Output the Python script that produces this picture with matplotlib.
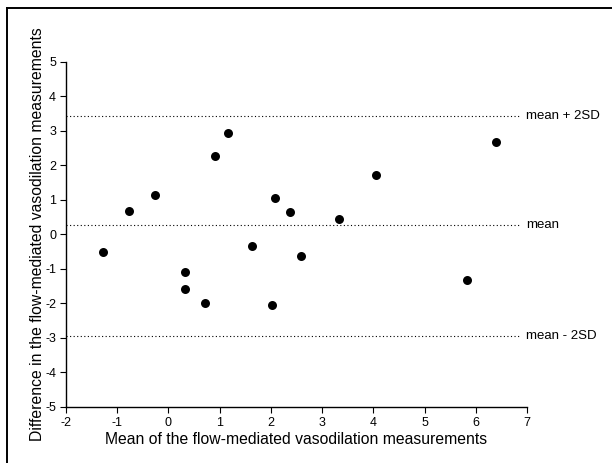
import numpy as np
import matplotlib
matplotlib.use('Agg')
import matplotlib.pyplot as plt
from matplotlib.lines import Line2D

# Bland-Altman data: mean of the two measurements vs their difference
mean_vals = [-1.28, -0.77, -0.26, 0.33, 0.33, 0.71, 0.91, 1.17, 1.64,
             2.03, 2.08, 2.38, 2.59, 3.33, 4.05, 5.82, 6.40]
diff_vals = [-0.52, 0.66, 1.14, -1.09, -1.59, -1.98, 2.28, 2.93, -0.33,
             -2.04, 1.05, 0.63, -0.63, 0.43, 1.71, -1.34, 2.68]

# reference lines
limit_values = [3.44, 0.27, -2.94]
limit_labels = ['mean + 2SD', 'mean', 'mean - 2SD']

x_ticks = list(range(-2, 8))
y_ticks = list(range(-5, 6))

plt.rcParams['font.family'] = ['Liberation Sans', 'DejaVu Sans']
plt.rcParams['axes.unicode_minus'] = False

fig = plt.figure(figsize=(6.12, 4.63), dpi=100)
W, H = 612, 463
# axes box in pixels: x -2 at 66, 7 at 527 ; y 5 at 61.7, -5 at 406.7
ax = fig.add_axes([66 / W, 1 - 406.7 / H, (527 - 66) / W, (406.7 - 61.7) / H])

ax.scatter(mean_vals, diff_vals, s=42, color='black', zorder=3, linewidths=0)

for v, lab in zip(limit_values, limit_labels):
    ax.hlines(v, -2, 6.84, colors='black', linewidth=0.8,
              linestyles=(0, (1, 2.2)))
    ax.text(6.98, v, lab, ha='left', va='center', fontsize=9.5, clip_on=False)

ax.set_xlim(-2, 7)
ax.set_ylim(-5, 5)
ax.set_xticks(x_ticks)
ax.set_yticks(y_ticks)
ax.spines['top'].set_visible(False)
ax.spines['right'].set_visible(False)
for s in ['left', 'bottom']:
    ax.spines[s].set_linewidth(1.0)
ax.tick_params(direction='out', length=4.3, width=0.8, labelsize=9, pad=2.8)

ax.set_xlabel('Mean of the flow-mediated vasodilation measurements', fontsize=11.3)
ax.set_ylabel('Difference in the flow-mediated vasodilation measurements', fontsize=11.3)
ax.xaxis.set_label_coords(0.5, -0.072)
ax.yaxis.set_label_coords(-0.045, 0.5)

# frame around the figure (only top and left edges visible)
fig.add_artist(Line2D([7 / W, 1], [1 - 7.5 / H, 1 - 7.5 / H], color='black', linewidth=1.4))
fig.add_artist(Line2D([7 / W, 7 / W], [0, 1 - 7.5 / H], color='black', linewidth=1.4))

fig.savefig('out.png', dpi=100)
